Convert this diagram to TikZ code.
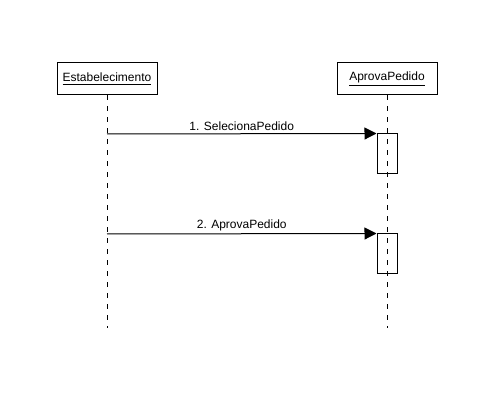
\documentclass[tikz,border=0pt]{standalone}
\usepackage{fontspec}
\setmainfont{Liberation Sans}
\usetikzlibrary{arrows.meta}
\begin{document}
\begin{tikzpicture}[x=0.75pt,y=-0.75pt,line width=0.75pt,
	lifebox/.style={rectangle, draw, minimum width=75pt, minimum height=24pt, font=\fontsize{9}{11}\selectfont},
	lifeline/.style={dash pattern=on 3.75pt off 4.5pt},
	actbox/.style={rectangle, draw, minimum width=15pt, minimum height=30pt, inner sep=0pt},
	msg/.style={-{Triangle[length=9pt,width=9pt]}},
	msglabel/.style={above, inner sep=2pt, font=\fontsize{9}{11}\selectfont}]
	\useasboundingbox (0,0) rectangle (497,417);
	\node[lifebox] (estab) at (107,79) {\underline{Estabelecimento}};
	\node[lifebox] (aprova) at (387,79) {\underline{AprovaPedido}};
	\coordinate (estabend) at (107,328);
	\coordinate (aprovaend) at (387,328);
	\draw[lifeline] (estab) -- (estabend);
	\draw[lifeline] (aprova) -- (aprovaend);
	
	\node[actbox] (act1) at (387,154) {};
	\node[actbox] (act2) at (387,254) {};
	\coordinate (src1) at (107,134);
	\coordinate (src2) at (107,234);
	\draw[msg] (src1) -- node[msglabel] {1. SelecionaPedido} (act1.north west);
	\draw[msg] (src2) -- node[msglabel] {2. AprovaPedido} (act2.north west);
\end{tikzpicture}
\end{document}
